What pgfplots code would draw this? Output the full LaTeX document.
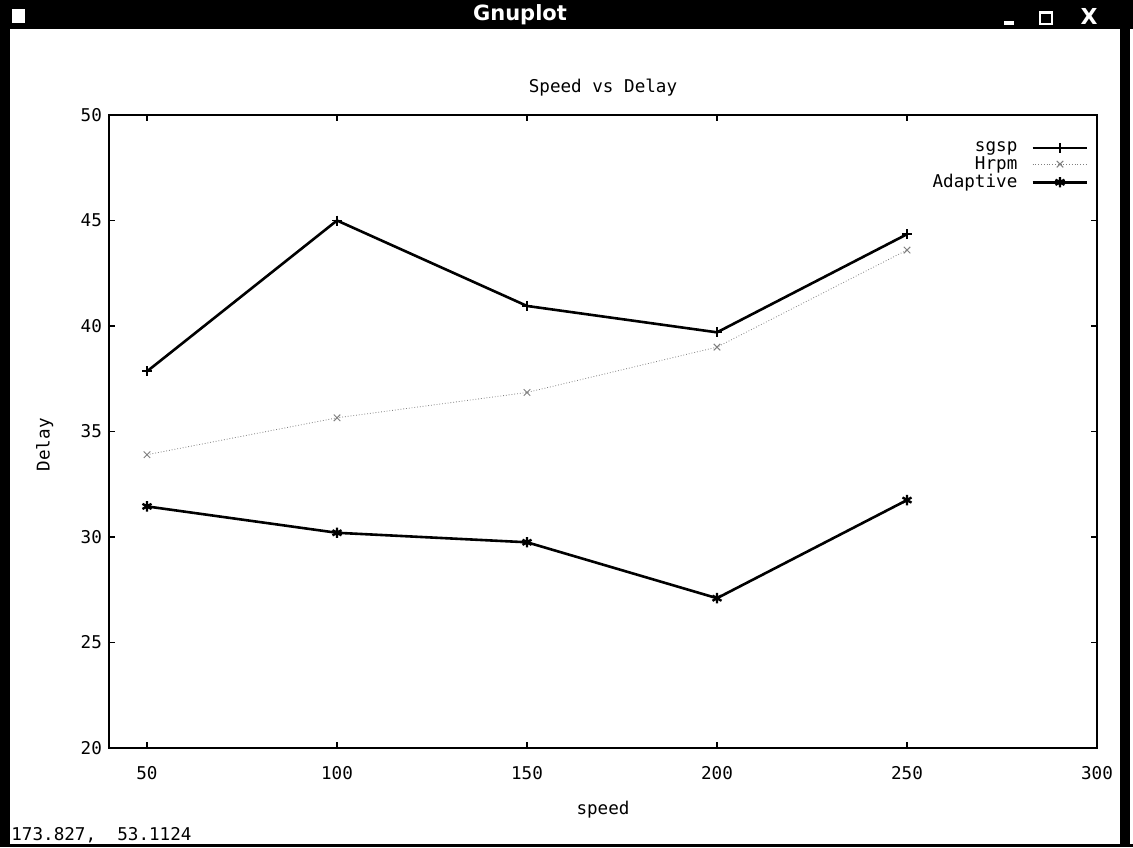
\documentclass[border=0pt]{standalone}
\usepackage{fontspec}
\setmainfont{DejaVu Sans Mono}
\newfontfamily\barfont{DejaVu Sans}
\usepackage{pgfplots}
\pgfplotsset{compat=1.18}
\newcommand{\gpfont}{\fontsize{8.8}{10}\selectfont}
\begin{document}
\begin{tikzpicture}
\useasboundingbox (0,0) rectangle (566.5pt,423.5pt);
\fill[white] (0,0) rectangle (566.5pt,423.5pt);
% window frame
\fill[black] (0,409pt) rectangle (566.5pt,423.5pt);
\fill[black] (0,0) rectangle (5pt,409pt);
\fill[black] (560pt,0) rectangle (565pt,409pt);
\fill[black] (0,0) rectangle (566.5pt,1.5pt);
\fill[white] (6pt,412pt) rectangle (12.5pt,419pt);
\node[white,font=\barfont\bfseries\fontsize{10.5}{12}\selectfont] at (260pt,416pt) {Gnuplot};
\fill[white] (502pt,411pt) rectangle (507pt,413pt);
\draw[white,line width=0.9pt] (520pt,411.5pt) rectangle (526pt,417.5pt);
\fill[white] (519.6pt,416.5pt) rectangle (526.4pt,418pt);
\node[white,font=\barfont\bfseries\fontsize{11}{12}\selectfont] at (544.5pt,415.5pt) {X};
\node[anchor=base west,font=\gpfont,inner sep=0pt] at (5.5pt,3.5pt) {173.827,\ \ 53.1124};
\begin{axis}[
  at={(54.5pt,49.5pt)}, anchor=south west,
  scale only axis, width=494pt, height=316.5pt,
  xmin=40, xmax=300, ymin=20, ymax=50,
  xtick={50,100,150,200,250,300},
  ytick={20,25,30,35,40,45,50},
  tick align=inside, major tick length=3pt,
  axis line style={line width=1.2pt},
  every tick/.style={black,line width=0.8pt},
  /pgf/number format/assume math mode=true,
  tick label style={font=\gpfont},
  xticklabel style={yshift=-5.5pt},
  title={Speed vs Delay},
  title style={at={(0.5,1)},anchor=center,yshift=7.5pt,font=\gpfont},
  xlabel={speed},
  xlabel style={at={(0.5,0)},anchor=center,yshift=-31pt,font=\gpfont},
  ylabel={Delay},
  ylabel style={at={(-0.065,0.479)},anchor=center,font=\gpfont},
  legend plot pos=right,
  legend cell align=right,
  legend style={draw=none,fill=none,at={(1,1)},anchor=north east,xshift=-3pt,yshift=-10pt,font=\gpfont,row sep=-3pt,column sep=5pt,inner sep=1pt},
  legend image code/.code={\draw[mark repeat=2,mark phase=2,#1] plot coordinates {(0cm,0cm) (0.48cm,0cm) (0.96cm,0cm)};},
]
\addplot[black,line width=1.3pt,mark=+,mark size=2.5pt,mark options={line width=0.9pt}] coordinates {
  (50,37.85) (100,45.0) (150,40.95) (200,39.7) (250,44.35)};
\addlegendentry{sgsp}
\addplot[black!50,line width=0.4pt,densely dotted,mark=x,mark size=2.3pt,mark options={solid,line width=0.5pt}] coordinates {
  (50,33.9) (100,35.65) (150,36.85) (200,39.0) (250,43.6)};
\addlegendentry{Hrpm}
\addplot[black,line width=1.3pt,mark=asterisk,mark size=2.6pt,mark options={line width=1.2pt}] coordinates {
  (50,31.45) (100,30.2) (150,29.75) (200,27.1) (250,31.75)};
\addlegendentry{Adaptive}
\end{axis}
\end{tikzpicture}
\end{document}
